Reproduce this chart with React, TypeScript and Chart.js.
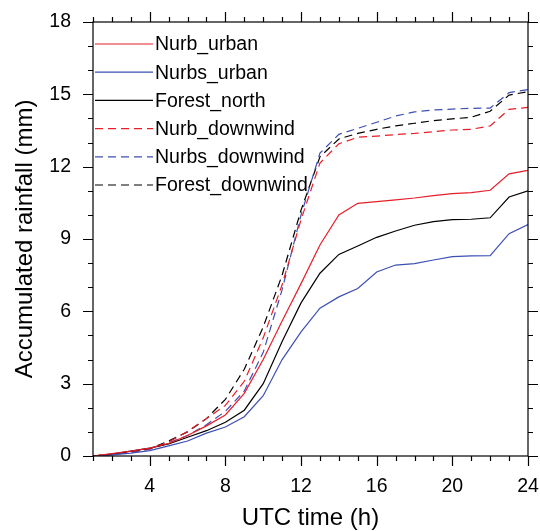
import React, { useEffect, useRef } from 'react';
import { Chart, registerables } from 'chart.js';

Chart.register(...registerables);

const hours = [1, 2, 3, 4, 5, 6, 7, 8, 9, 10, 11, 12, 13, 14, 15, 16, 17, 18, 19, 20, 21, 22, 23, 24];

const nurbUrban = [0, 0.1, 0.2, 0.33, 0.52, 0.85, 1.25, 1.7, 2.6, 4.0, 5.6, 7.15, 8.75, 10.0, 10.48, 10.55, 10.62, 10.7, 10.8, 10.88, 10.92, 11.02, 11.7, 11.85];
const nurbsUrban = [0, 0.05, 0.12, 0.22, 0.42, 0.62, 0.95, 1.2, 1.63, 2.5, 4.0, 5.15, 6.13, 6.6, 6.95, 7.63, 7.92, 7.98, 8.13, 8.27, 8.3, 8.31, 9.22, 9.6];
const forestNorth = [0, 0.08, 0.2, 0.33, 0.5, 0.78, 1.05, 1.4, 1.9, 3.0, 4.75, 6.35, 7.58, 8.36, 8.71, 9.07, 9.33, 9.57, 9.72, 9.8, 9.82, 9.88, 10.74, 11.0];
const nurbDownwind = [0, 0.08, 0.18, 0.3, 0.58, 1.02, 1.55, 2.1, 3.1, 4.9, 7.1, 9.8, 12.15, 12.95, 13.22, 13.27, 13.33, 13.38, 13.45, 13.52, 13.55, 13.69, 14.38, 14.46];
const nurbsDownwind = [0, 0.06, 0.15, 0.28, 0.55, 0.85, 1.3, 1.85, 2.7, 4.3, 6.9, 10.0, 12.56, 13.34, 13.59, 13.84, 14.1, 14.27, 14.35, 14.39, 14.42, 14.43, 15.07, 15.2];
const forestDownwind = [0, 0.07, 0.17, 0.3, 0.62, 1.0, 1.55, 2.35, 3.6, 5.35, 7.5, 10.2, 12.41, 13.15, 13.38, 13.55, 13.69, 13.8, 13.91, 13.98, 14.05, 14.3, 14.97, 15.11];

const seriesLabels = ['Nurb_urban', 'Nurbs_urban', 'Forest_north', 'Nurb_downwind', 'Nurbs_downwind', 'Forest_downwind'];

const RED = '#e61e28';
const BLUE = '#3c4fb4';
const BLACK = '#000000';
const FONT = '"Liberation Sans", Arial, Helvetica, sans-serif';

const frameAndLegend = {
  id: 'frameAndLegend',
  afterDraw(chart: any) {
    const { ctx, chartArea } = chart;
    const { left, right, top, bottom } = chartArea;
    const xs = chart.scales.x;
    const ys = chart.scales.y;
    ctx.save();
    ctx.strokeStyle = '#000';
    ctx.lineWidth = 1.2;
    ctx.setLineDash([]);
    ctx.strokeRect(left, top, right - left, bottom - top);
    ctx.beginPath();
    xs.ticks.forEach((t: any) => {
      const px = Math.round(xs.getPixelForValue(t.value)) + 0.5;
      const len = t.value % 4 === 0 ? 10 : 5;
      ctx.moveTo(px, bottom);
      ctx.lineTo(px, bottom + len);
      ctx.moveTo(px, top);
      ctx.lineTo(px, top - len);
    });
    ys.ticks.forEach((t: any) => {
      const py = Math.round(ys.getPixelForValue(t.value)) + 0.5;
      const len = t.value % 3 === 0 ? 10 : 5;
      ctx.moveTo(left, py);
      ctx.lineTo(left - len, py);
      ctx.moveTo(right, py);
      ctx.lineTo(right + len, py);
    });
    ctx.stroke();

    // legend inside plot
    ctx.font = `19.5px ${FONT}`;
    ctx.textBaseline = 'middle';
    ctx.textAlign = 'left';
    chart.data.datasets.forEach((ds: any, i: number) => {
      const yy = 44 + i * 28.2;
      ctx.beginPath();
      ctx.strokeStyle = ds.borderColor;
      ctx.lineWidth = 1.2;
      ctx.setLineDash(ds.borderDash || []);
      ctx.moveTo(left + 2, yy);
      ctx.lineTo(left + 60, yy);
      ctx.stroke();
      ctx.setLineDash([]);
      ctx.fillStyle = '#000';
      ctx.fillText(ds.label, left + 62, yy + 1);
    });
    ctx.restore();
  },
};

export default function App() {
  const ref = useRef<HTMLCanvasElement | null>(null);

  useEffect(() => {
    document.body.style.margin = '0';
    const canvas = ref.current;
    if (!canvas) return;
    const mk = (label: string, data: number[], color: string, dashed: boolean) => ({
      label,
      data: hours.map((h, i) => ({ x: h, y: data[i] })),
      borderColor: color,
      backgroundColor: color,
      borderWidth: 1.2,
      borderDash: dashed ? [8, 5] : [],
      pointRadius: 0,
      fill: false,
      tension: 0,
    });
    const chart = new Chart(canvas, {
      type: 'line',
      data: {
        datasets: [
          mk(seriesLabels[0], nurbUrban, RED, false),
          mk(seriesLabels[1], nurbsUrban, BLUE, false),
          mk(seriesLabels[2], forestNorth, BLACK, false),
          mk(seriesLabels[3], nurbDownwind, RED, true),
          mk(seriesLabels[4], nurbsDownwind, BLUE, true),
          mk(seriesLabels[5], forestDownwind, BLACK, true),
        ],
      },
      options: {
        animation: false,
        responsive: false,
        maintainAspectRatio: false,
        layout: { padding: { top: 22, right: 12, left: 0, bottom: 0 } },
        plugins: {
          legend: { display: false },
          tooltip: { enabled: false },
        },
        scales: {
          x: {
            type: 'linear',
            min: 1,
            max: 24,
            grid: { display: false, drawTicks: false },
            border: { display: false },
            ticks: {
              stepSize: 1,
              autoSkip: false,
              maxRotation: 0,
              padding: 19,
              color: '#000',
              font: { family: FONT, size: 19.5 },
              callback: (v: any) => (Number(v) % 4 === 0 ? String(v) : ''),
            },
            title: {
              display: true,
              text: 'UTC time (h)',
              color: '#000',
              font: { family: FONT, size: 24, lineHeight: 1 },
              padding: { top: 0, bottom: 1 },
            },
            afterFit: (scale: any) => {
              scale.height = 75;
              scale.paddingLeft = 0;
              scale.paddingRight = 0;
            },
          },
          y: {
            type: 'linear',
            min: 0,
            max: 18,
            grid: { display: false, drawTicks: false },
            border: { display: false },
            ticks: {
              stepSize: 1,
              autoSkip: false,
              padding: 22,
              color: '#000',
              font: { family: FONT, size: 19.5 },
              callback: (v: any) => (Number(v) % 3 === 0 ? String(v) : ''),
            },
            title: {
              display: true,
              text: 'Accumulated rainfall (mm)',
              color: '#000',
              font: { family: FONT, size: 24, lineHeight: 1 },
              padding: { top: 13, bottom: 0 },
            },
            afterFit: (scale: any) => {
              scale.width = 93;
              scale.paddingTop = 0;
              scale.paddingBottom = 0;
            },
          },
        },
      },
      plugins: [frameAndLegend],
    } as any);
    return () => chart.destroy();
  }, []);

  return (
    <div style={{ width: 540, height: 531 }}>
      <canvas ref={ref} width={540} height={531} style={{ display: 'block' }} />
    </div>
  );
}
